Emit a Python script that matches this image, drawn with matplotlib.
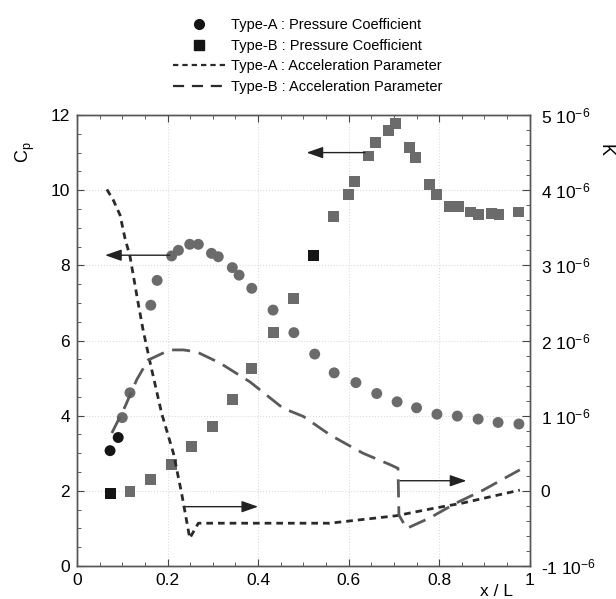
import matplotlib
matplotlib.use("Agg")
import matplotlib.pyplot as plt
from matplotlib.lines import Line2D
from matplotlib.ticker import MultipleLocator

plt.rcParams["font.family"] = ["Liberation Sans", "DejaVu Sans"]
plt.rcParams["mathtext.default"] = "regular"

# Type-A pressure coefficient (circles)
xa = [0.073, 0.091, 0.100, 0.117, 0.163, 0.177, 0.209, 0.224, 0.249, 0.268,
      0.297, 0.312, 0.343, 0.358, 0.386, 0.433, 0.479, 0.525, 0.568, 0.616,
      0.662, 0.707, 0.750, 0.795, 0.840, 0.886, 0.930, 0.976]
cp_a = [3.07, 3.42, 3.95, 4.61, 6.94, 7.60, 8.25, 8.40, 8.56, 8.56,
        8.32, 8.23, 7.94, 7.74, 7.39, 6.81, 6.21, 5.64, 5.14, 4.88,
        4.59, 4.37, 4.21, 4.04, 3.99, 3.91, 3.82, 3.78]

# Type-B pressure coefficient (squares)
xb = [0.073, 0.117, 0.163, 0.208, 0.253, 0.299, 0.344, 0.386, 0.433, 0.478,
      0.522, 0.566, 0.599, 0.612, 0.643, 0.660, 0.687, 0.704, 0.734, 0.748,
      0.779, 0.794, 0.823, 0.842, 0.869, 0.887, 0.915, 0.932, 0.976]
cp_b = [1.93, 1.98, 2.31, 2.71, 3.19, 3.72, 4.43, 5.26, 6.21, 7.12,
        8.27, 9.29, 9.89, 10.24, 10.91, 11.26, 11.60, 11.77, 11.13, 10.87,
        10.16, 9.89, 9.56, 9.56, 9.42, 9.36, 9.38, 9.36, 9.42]

# acceleration parameter K, in units of 1e-6
xka = [0.066, 0.080, 0.095, 0.106, 0.117, 0.135, 0.146, 0.161, 0.187, 0.213,
       0.231, 0.249, 0.268, 0.400, 0.558, 0.706, 0.772, 0.853, 0.978]
k_a = [4.01, 3.87, 3.67, 3.36, 3.12, 2.50, 2.14, 1.72, 1.03, 0.50,
       -0.03, -0.63, -0.43, -0.43, -0.43, -0.33, -0.25, -0.16, 0.01]

xkb = [0.077, 0.106, 0.132, 0.157, 0.205, 0.235, 0.264, 0.316, 0.382, 0.455,
       0.500, 0.560, 0.632, 0.691, 0.709, 0.711, 0.728, 0.779, 0.838, 0.897, 0.978]
k_b = [0.77, 1.12, 1.48, 1.74, 1.875, 1.875, 1.85, 1.70, 1.45, 1.10,
       0.99, 0.74, 0.50, 0.35, 0.30, -0.32, -0.50, -0.36, -0.16, 0.01, 0.28]

xticks = [0, 0.2, 0.4, 0.6, 0.8, 1]
xtick_labels = ["0", "0.2", "0.4", "0.6", "0.8", "1"]
k_ticks = [-1, 0, 1, 2, 3, 4, 5]
k_labels = ["-1 10$^{-6}$", "0", "1 10$^{-6}$", "2 10$^{-6}$",
            "3 10$^{-6}$", "4 10$^{-6}$", "5 10$^{-6}$"]

# arrows (tail, head) in Cp-axis data units
arrows = [((0.205, 8.27), (0.062, 8.27)),
          ((0.636, 11.0), (0.507, 11.0)),
          ((0.235, 1.58), (0.40, 1.58)),
          ((0.713, 2.27), (0.86, 2.27))]

GRAY = "#6b6b6b"
DARK = "#151515"

fig = plt.figure(figsize=(6.16, 5.99), dpi=100)
ax = fig.add_axes([0.125, 0.055, 0.735, 0.753])
ax2 = ax.twinx()

ax.set_xlim(0, 1)
ax.set_ylim(0, 12)
ax2.set_ylim(-1, 5)

ax.grid(True, color="#dcdcdc", lw=0.8, ls=":")

# pressure coefficient markers (first points printed darker)
ca = [DARK, DARK] + [GRAY] * (len(xa) - 2)
cb = [GRAY] * len(xb)
cb[0] = DARK
cb[10] = DARK
ax.scatter(xa, cp_a, s=62, marker="o", c=ca, zorder=3, linewidths=0)
ax.scatter(xb, cp_b, s=62, marker="s", c=cb, zorder=3, linewidths=0)

# acceleration parameter lines
la, = ax2.plot(xka, k_a, color="#2a2a2a", lw=2.0, zorder=2)
la.set_dashes((2.4, 1.8))
lb, = ax2.plot(xkb, k_b, color="#5a5a5a", lw=2.0, zorder=2)
lb.set_dashes((6.5, 3.2))

for tail, head in arrows:
    ax.annotate("", xy=head, xytext=tail,
                arrowprops=dict(arrowstyle="-|>,head_length=1.0,head_width=0.35",
                                lw=1.0, color="#222222", shrinkA=0, shrinkB=0),
                zorder=4)

ax.set_xticks(xticks)
ax.set_xticklabels(xtick_labels)
ax.set_yticks(range(0, 13, 2))
ax.xaxis.set_minor_locator(MultipleLocator(0.05))
ax.yaxis.set_minor_locator(MultipleLocator(0.5))
ax.tick_params(which="both", direction="in", top=True, right=False,
               labelsize=12.5, color="#444444", pad=5)
ax.tick_params(which="major", length=5)
ax.tick_params(which="minor", length=3)

ax2.set_yticks(k_ticks)
ax2.set_yticklabels(k_labels)
ax2.yaxis.set_minor_locator(MultipleLocator(0.2))
ax2.tick_params(which="both", direction="in", labelsize=12.5, color="#444444", pad=8)
ax2.tick_params(which="major", length=6)
ax2.tick_params(which="minor", length=3)

for a in (ax, ax2):
    for sp in a.spines.values():
        sp.set_color("#555555")
        sp.set_linewidth(1.0)

fig.text(25 / 616, 1 - 152 / 599, "C$_p$", rotation=90, fontsize=13,
         ha="center", va="center")
fig.text(605 / 616, 1 - 150 / 599, "K", rotation=270, fontsize=13,
         ha="center", va="center")
fig.text(497 / 616, 0.0, "x / L", fontsize=12.5, ha="center", va="bottom")

handles = [
    Line2D([], [], marker="o", color=DARK, ls="none", markersize=7),
    Line2D([], [], marker="s", color=DARK, ls="none", markersize=6.5),
    Line2D([], [], color="#2a2a2a", lw=1.6, dashes=(2.4, 1.8)),
    Line2D([], [], color="#2a2a2a", lw=1.6, dashes=(5, 3.5)),
]
labels = ["Type-A : Pressure Coefficient", "Type-B : Pressure Coefficient",
          "Type-A : Acceleration Parameter", "Type-B : Acceleration Parameter"]
fig.legend(handles, labels, loc="upper left",
           bbox_to_anchor=(163 / 616, 1 - 8 / 599), frameon=False,
           fontsize=10.5, handlelength=3.6, handletextpad=0.35,
           labelspacing=0.45, borderpad=0.2)

fig.savefig("out.png", dpi=100)
